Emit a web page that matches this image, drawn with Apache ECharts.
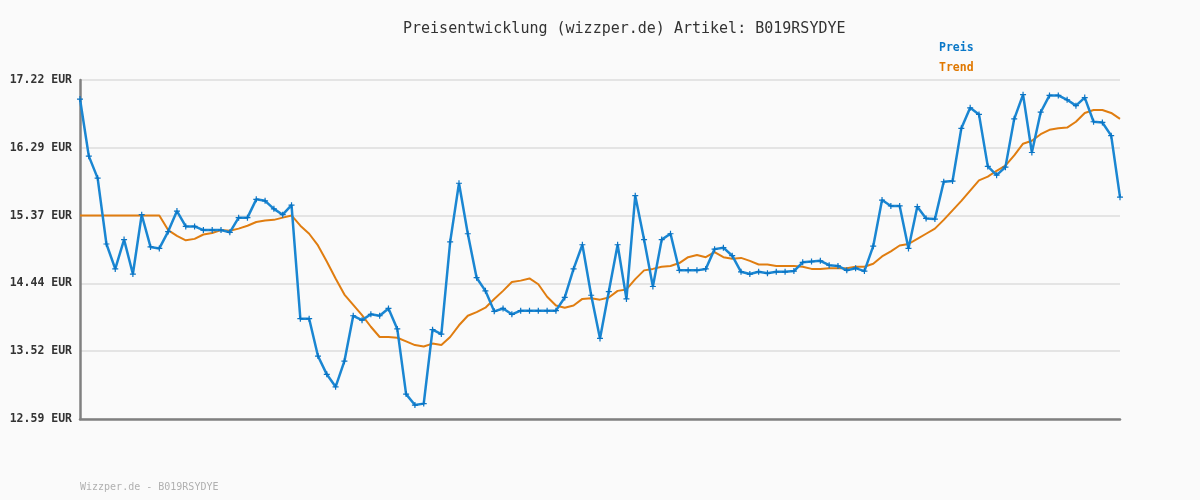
<!DOCTYPE html>
<html>
<head>
<meta charset="utf-8">
<script src="https://cdn.jsdelivr.net/npm/echarts@6/dist/echarts.min.js"></script>
<style>
html,body{margin:0;padding:0;background:#fafafa;}
#c{width:1200px;height:500px;}
</style>
</head>
<body>
<div id="c"></div>
<script>
const titleText = 'Preisentwicklung (wizzper.de) Artikel: B019RSYDYE';
const footerText = 'Wizzper.de - B019RSYDYE';
const seriesNames = ['Preis', 'Trend'];
const yTicks = [12.59, 13.52, 14.44, 15.37, 16.29, 17.22];

const preis = [16.96,16.18,15.88,14.98,14.64,15.04,14.57,15.38,14.94,14.92,
15.15,15.43,15.22,15.22,15.17,15.17,15.17,15.14,15.34,15.34,
15.59,15.57,15.46,15.38,15.51,13.96,13.96,13.45,13.20,13.03,
13.38,14.00,13.94,14.02,14.00,14.10,13.82,12.93,12.78,12.80,
13.81,13.75,15.01,15.81,15.12,14.52,14.34,14.06,14.10,14.02,
14.07,14.07,14.07,14.07,14.07,14.25,14.64,14.97,14.28,13.69,
14.33,14.97,14.23,15.64,15.04,14.40,15.04,15.12,14.62,14.62,
14.62,14.64,14.91,14.93,14.82,14.60,14.57,14.60,14.58,14.60,
14.60,14.61,14.73,14.74,14.75,14.69,14.68,14.62,14.65,14.61,
14.95,15.58,15.50,15.50,14.92,15.49,15.33,15.32,15.83,15.84,
16.56,16.84,16.75,16.04,15.92,16.03,16.69,17.02,16.23,16.78,
17.01,17.01,16.95,16.87,16.98,16.65,16.64,16.46,15.62];

const trend = [15.37,15.37,15.37,15.37,15.37,15.37,15.37,15.37,15.37,15.37,
15.17,15.09,15.03,15.05,15.11,15.13,15.17,15.16,15.19,15.23,
15.28,15.30,15.31,15.34,15.37,15.23,15.12,14.96,14.74,14.51,
14.29,14.15,14.01,13.85,13.71,13.71,13.70,13.65,13.60,13.58,
13.62,13.60,13.71,13.87,14.00,14.05,14.11,14.23,14.34,14.46,
14.48,14.51,14.43,14.26,14.14,14.11,14.14,14.23,14.24,14.22,
14.25,14.34,14.36,14.50,14.62,14.64,14.67,14.68,14.72,14.80,
14.83,14.80,14.87,14.80,14.78,14.79,14.75,14.70,14.70,14.68,
14.68,14.68,14.67,14.64,14.64,14.65,14.65,14.65,14.67,14.67,
14.71,14.81,14.88,14.96,14.98,15.05,15.12,15.19,15.31,15.44,
15.57,15.71,15.85,15.90,15.98,16.05,16.19,16.35,16.39,16.48,
16.54,16.56,16.57,16.65,16.77,16.81,16.81,16.77,16.69];

const categories = preis.map((_, i) => String(i + 1));

const chart = echarts.init(document.getElementById('c'), null, {renderer: 'canvas'});
const mono = '"DejaVu Sans Mono", monospace';
const yMin = yTicks[0], yMax = yTicks[yTicks.length - 1];
const yStep = (yMax - yMin) / (yTicks.length - 1);

chart.setOption({
  animation: false,
  backgroundColor: '#fafafa',
  title: {
    text: titleText,
    left: 398, top: 17,
    textStyle: {fontFamily: mono, fontSize: 15, fontWeight: 'normal', color: '#333'}
  },
  legend: {
    orient: 'vertical',
    left: 928, top: 37,
    itemWidth: 0, itemHeight: 0, itemGap: 8,
    selectedMode: false,
    data: [
      {name: seriesNames[0], textStyle: {color: '#0a78c8'}},
      {name: seriesNames[1], textStyle: {color: '#e07800'}}
    ],
    textStyle: {fontFamily: mono, fontSize: 11.5, fontWeight: 'bold'}
  },
  graphic: [{
    type: 'text', left: 80, top: 482,
    style: {text: footerText, fontFamily: mono, fontSize: 10, fill: '#b0b0b0'}
  }],
  grid: {left: 80, right: 80, top: 80, bottom: 81, containLabel: false},
  xAxis: {
    type: 'category', data: categories, boundaryGap: false,
    axisLine: {show: true, lineStyle: {color: '#808080', width: 2.5}},
    axisTick: {show: false}, axisLabel: {show: false}, splitLine: {show: false}
  },
  yAxis: {
    type: 'value', min: yMin, max: yMax, interval: yStep,
    axisLine: {show: true, lineStyle: {color: '#808080', width: 2.5}},
    axisTick: {show: false},
    axisLabel: {
      margin: 8,
      fontFamily: mono, fontSize: 11.5, fontWeight: 'bold', color: '#333',
      formatter: v => v.toFixed(2) + ' EUR'
    },
    splitLine: {show: true, lineStyle: {color: '#e4e4e4', width: 2}}
  },
  series: [
    {
      name: seriesNames[0], type: 'line', data: preis, z: 3,
      lineStyle: {color: '#1a86d2', width: 2.5},
      itemStyle: {color: '#0a74c4'},
      symbol: 'path://M2,0 L3,0 L3,2 L5,2 L5,3 L3,3 L3,5 L2,5 L2,3 L0,3 L0,2 L2,2 Z',
      symbolSize: 6, showAllSymbol: true
    },
    {
      name: seriesNames[1], type: 'line', data: trend, z: 2,
      lineStyle: {color: '#e07d10', width: 2},
      itemStyle: {color: '#e07800'},
      symbol: 'none'
    }
  ]
});
</script>
</body>
</html>
